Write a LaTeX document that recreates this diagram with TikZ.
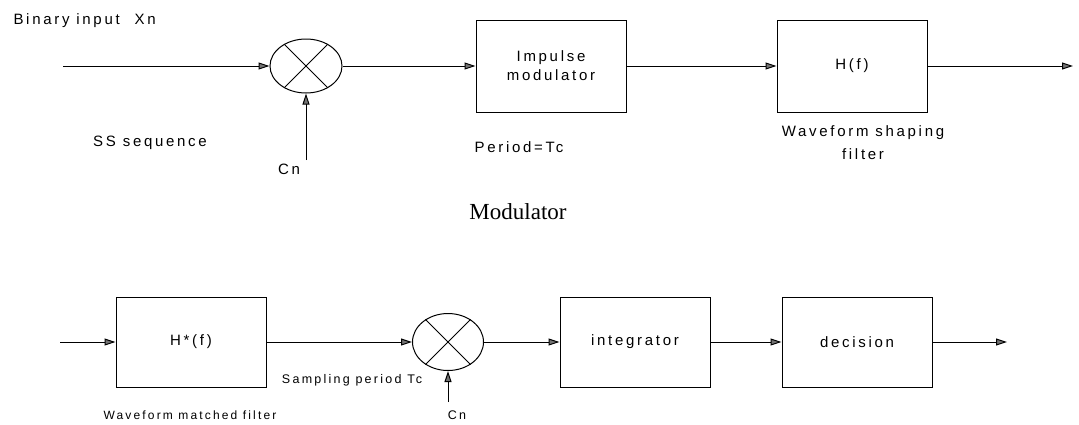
\documentclass[tikz,border=0pt]{standalone}
\usepackage{fontspec}
\setmainfont{Liberation Sans}[LetterSpace=18]
\newfontfamily\titlefont{Liberation Serif}
\usetikzlibrary{arrows.meta,positioning,shapes.geometric}

\tikzset{
  sig/.style={-{Triangle[length=11pt,width=7pt,fill=black!55]}, line width=1pt},
  block/.style={draw, line width=1pt, minimum width=150pt, minimum height=92pt, align=center, font=\fontsize{15}{19}\selectfont},
  mixer/.style={draw, line width=1pt, ellipse, minimum width=72pt, minimum height=54pt},
  lbl/.style={font=\fontsize{15}{23}\selectfont, align=center},
  small/.style={font=\fontsize{12.5}{15}\selectfont}
}

\begin{document}
\begin{tikzpicture}[x=1pt, y=-1pt]
  \useasboundingbox (0,0) rectangle (1079,424);

  % modulator
  \coordinate (in1) at (63,66);
  \node[mixer] (mix1) at (306,66) {};
  \node[block] (imp) at (551,66) {Impulse\\modulator};
  \node[block] (hf) at (852,66) {H(f)};
  \coordinate (out1) at (1073,66);
  \coordinate (cn1) at (306,160);

  \draw[line width=1pt] (mix1.45) -- (mix1.225);
  \draw[line width=1pt] (mix1.135) -- (mix1.315);

  \draw[sig] (in1) -- (mix1);
  \draw[sig] (mix1) -- (imp);
  \draw[sig] (imp) -- (hf);
  \draw[sig] (hf) -- (out1);
  \draw[sig] (cn1) -- (mix1);

  \node[lbl, anchor=west] (bin) at (10,21) {Binary input\quad Xn};
  \node[lbl] (ss) at (150,143) {SS sequence};
  \node[lbl] (cnt) at (289,169) {Cn};
  \node[lbl] (per) at (519,147) {Period=Tc};
  \node[lbl] (wsf) at (863,143) {Waveform shaping\\filter};
  \node[font=\titlefont\fontsize{23}{26}\selectfont] (title) at (518,212) {Modulator};

  % demodulator
  \coordinate (in2) at (60,342);
  \node[block, minimum height=90pt] (hstar) at (191,342) {H*(f)};
  \node[mixer, minimum width=71pt, minimum height=57pt] (mix2) at (448,342) {};
  \node[block, minimum height=90pt] (integ) at (635,342) {integrator};
  \node[block, minimum height=90pt] (dec) at (857,342) {decision};
  \coordinate (out2) at (1007,342);
  \coordinate (cn2) at (448,402);

  \draw[line width=1pt] (mix2.45) -- (mix2.225);
  \draw[line width=1pt] (mix2.135) -- (mix2.315);

  \draw[sig] (in2) -- (hstar);
  \draw[sig] (hstar) -- (mix2);
  \draw[sig] (mix2) -- (integ);
  \draw[sig] (integ) -- (dec);
  \draw[sig] (dec) -- (out2);
  \draw[sig] (cn2) -- (mix2);

  \node[small] (samp) at (352,380) {Sampling period Tc};
  \node[small, font=\fontsize{12}{15}\selectfont] (wmf) at (190,415) {Waveform matched filter};
  \node[small] (cnb) at (457,415) {Cn};
\end{tikzpicture}
\end{document}
